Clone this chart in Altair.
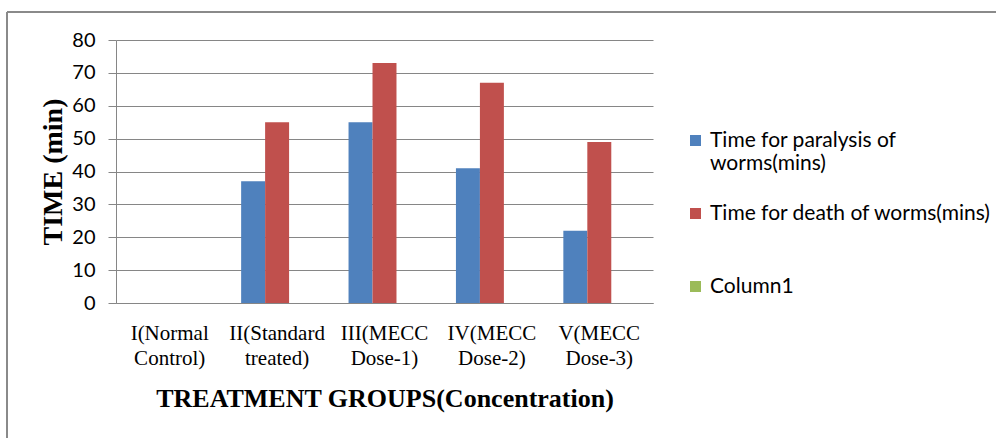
import altair as alt
import pandas as pd

categories = ["I(Normal Control)", "II(Standard treated)", "III(MECC Dose-1)",
              "IV(MECC Dose-2)", "V(MECC Dose-3)"]
series = ["Time for paralysis of worms(mins)", "Time for death of worms(mins)", "Column1"]
paralysis = [0, 37, 55, 41, 22]
death = [0, 55, 73, 67, 49]
column1 = [None, None, None, None, None]
colors = ["#4F81BD", "#C0504D", "#9BBB59"]
y_ticks = [0, 10, 20, 30, 40, 50, 60, 70, 80]

rows = []
for s, vals in zip(series, [paralysis, death, column1]):
    for c, v in zip(categories, vals):
        rows.append({"group": c, "series": s, "value": v})
df = pd.DataFrame(rows)

W, H = 537, 263
PAD_L, PAD_T = 116, 40

legend_expr = ("datum.label == 'Time for paralysis of worms(mins)' ? ['Time for paralysis of', 'worms(mins)'] : "
               "(datum.label == 'Time for death of worms(mins)' ? ['Time for death of worms(mins)', ''] : datum.label)")

bars = alt.Chart(df).mark_bar().encode(
    x=alt.X("group:N", sort=categories,
            scale=alt.Scale(paddingInner=0, paddingOuter=0),
            axis=alt.Axis(title="TREATMENT GROUPS(Concentration)",
                          labelExpr="split(datum.label, ' ')",
                          labelAngle=0, ticks=False, domainColor="#868686",
                          labelFont="Liberation Serif", labelFontSize=21,
                          labelLineHeight=25, labelColor="#000000",
                          labelPadding=19, titleFont="Liberation Serif",
                          titleFontSize=26, titleFontWeight="bold",
                          titleColor="#000000", titlePadding=17, grid=False)),
    xOffset=alt.XOffset("series:N", sort=series,
                        scale=alt.Scale(domain=series, paddingInner=0, paddingOuter=0.74)),
    y=alt.Y("value:Q", scale=alt.Scale(domain=[0, 80], nice=False),
            axis=alt.Axis(title="TIME (min)", values=y_ticks, tickSize=8,
                          tickColor="#868686", domainColor="#868686",
                          gridColor="#868686", labelFont="Lato", labelFontSize=20,
                          labelColor="#000000", labelPadding=13,
                          titleFont="Liberation Serif", titleFontSize=28,
                          titleFontWeight="bold", titleColor="#000000",
                          titlePadding=4)),
    color=alt.Color("series:N", sort=series,
                    scale=alt.Scale(domain=series, range=colors),
                    legend=alt.Legend(title=None, orient="none", legendX=569, legendY=90,
                                      symbolType="square", symbolSize=121,
                                      symbolStrokeWidth=0,
                                      labelFont="Lato", labelFontSize=21,
                                      labelColor="#000000", labelLimit=400,
                                      labelOffset=4, rowPadding=28,
                                      labelExpr=legend_expr)),
)

frame_data = alt.Data(values=[{"k": 1}])
left_edge = alt.Chart(frame_data).mark_rule(color="#8a8a8a", strokeWidth=2).encode(
    x=alt.value(7 - PAD_L), y=alt.value(12 - PAD_T), y2=alt.value(450 - PAD_T))
top_edge = alt.Chart(frame_data).mark_rule(color="#8a8a8a", strokeWidth=2).encode(
    x=alt.value(7 - PAD_L), x2=alt.value(1000 - PAD_L), y=alt.value(12 - PAD_T))

chart = alt.layer(bars, left_edge, top_edge).properties(
    width=W, height=H,
    autosize=alt.AutoSizeParams(type="none"),
    padding={"left": PAD_L, "top": PAD_T, "right": 996 - PAD_L - W, "bottom": 438 - PAD_T - H},
    background="white",
).configure_view(stroke=None)

chart.save("out.html", embed_options={"renderer": "svg", "actions": False})
